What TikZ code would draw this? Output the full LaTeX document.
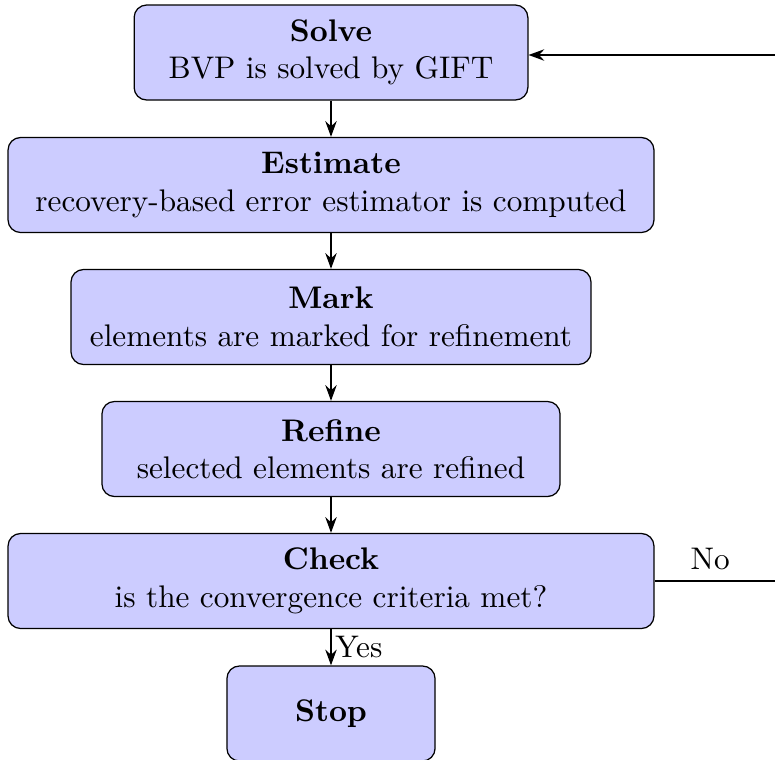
\documentclass[tikz,border=0pt]{standalone}
\usetikzlibrary{positioning,arrows.meta}
\tikzset{
	stage/.style={draw, rounded corners, fill=blue!20, align=center, minimum height=30.4pt, inner sep=3pt},
	flow/.style={thick, -{Stealth[length=5pt, width=3.6pt]}}
}
\begin{document}
\begin{tikzpicture}[x=0.32pt, y=-0.32pt]
	\useasboundingbox (0,0) rectangle (775,759);
	% stages of the adaptive loop
	\node[stage, minimum width=126pt] (solve) at (331,52.5) {\textbf{Solve}\\BVP is solved by GIFT};
	\node[stage, minimum width=206.7pt] (estimate) at (331,185) {\textbf{Estimate}\\recovery-based error estimator is computed};
	\node[stage, minimum width=166.4pt] (mark) at (331,317) {\textbf{Mark}\\elements are marked for refinement};
	\node[stage, minimum width=146.6pt] (refine) at (331,449) {\textbf{Refine}\\selected elements are refined};
	\node[stage, minimum width=206.7pt] (check) at (331,581) {\textbf{Check}\\is the convergence criteria met?};
	\node[stage, minimum width=66.6pt] (stop) at (331,713.5) {\textbf{Stop}};
	\draw[flow] (solve) -- (estimate);
	\draw[flow] (estimate) -- (mark);
	\draw[flow] (mark) -- (refine);
	\draw[flow] (refine) -- (check);
	\draw[flow] (check) -- node[right, inner sep=1pt] {Yes} (stop);
	% loop back
	\coordinate (turn1) at (778,581);
	\coordinate (turn2) at (778,55);
	\draw[thick] (check.east) -- node[above, pos=0.45] {No} (turn1) -- (turn2);
	\draw[flow] (turn2) -- (solve.east |- turn2);
\end{tikzpicture}
\end{document}
